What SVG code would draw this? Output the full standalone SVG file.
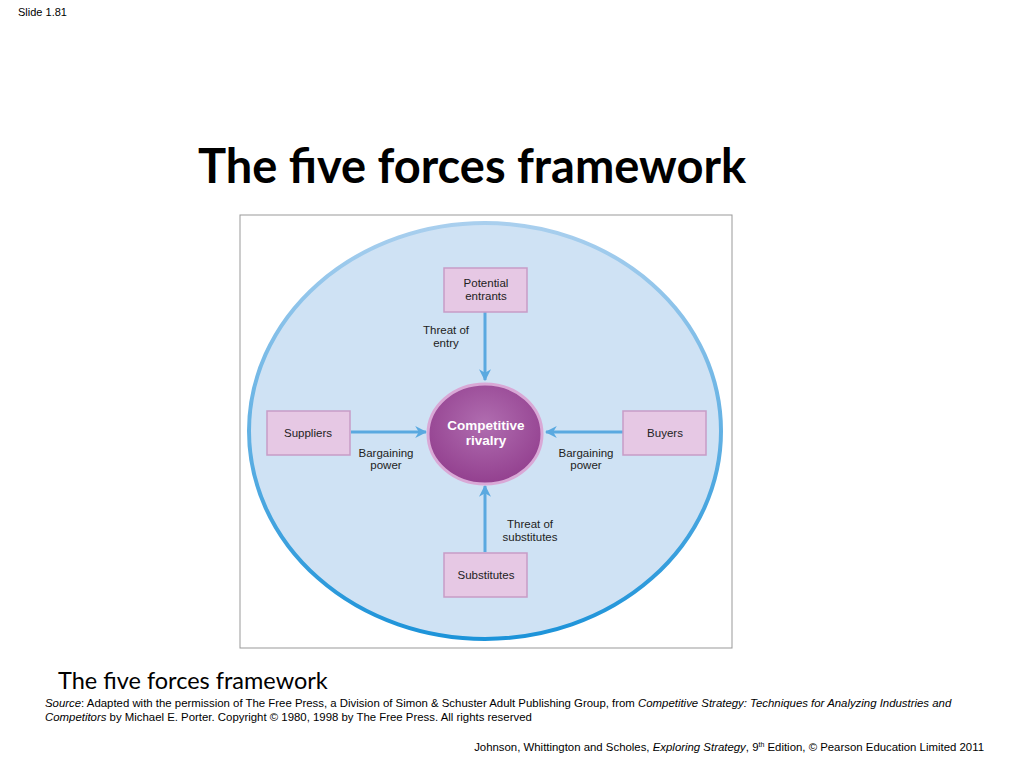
<svg xmlns="http://www.w3.org/2000/svg" width="1024" height="768" viewBox="0 0 1024 768">
<defs>
<style>
.lbl{font-family:"Liberation Sans",Arial,sans-serif;font-size:11.5px;fill:#222;text-anchor:middle}
.box{fill:#e6c8e4;stroke:#c79cc6;stroke-width:1.5}
.con{stroke:#5aa9e0;stroke-width:3;fill:none;marker-end:url(#ah)}
</style>
<marker id="ah" viewBox="0 0 10 10" refX="9" refY="5" markerWidth="4" markerHeight="4" orient="auto"><path d="M0,0 L10,5 L0,10 L3,5 z" fill="#5aa9e0"/></marker>
<radialGradient id="rg" cx="0.5" cy="0.4" r="0.6"><stop offset="0" stop-color="#b06db0"/><stop offset="1" stop-color="#93408f"/></radialGradient>
<linearGradient id="eg" x1="0" y1="0" x2="0" y2="1"><stop offset="0" stop-color="#a9cfee"/><stop offset="1" stop-color="#1c93d9"/></linearGradient>
</defs>
<rect width="1024" height="768" fill="#fff"/>
<text x="18" y="16" font-family="Liberation Sans,Arial,sans-serif" font-size="11" fill="#000">Slide 1.81</text>
<text x="472" y="183" font-family="Lato,sans-serif" font-size="47" font-weight="bold" text-anchor="middle" fill="#000">The five forces framework</text>
<rect x="240" y="215" width="492" height="433" fill="#fff" stroke="#999" stroke-width="1"/>
<ellipse cx="485" cy="431" rx="236" ry="208" fill="#cfe2f4" stroke="url(#eg)" stroke-width="4"/>
<g id="connectors">
<line class="con" x1="485" y1="312" x2="485" y2="380"/>
<line class="con" x1="351" y1="432" x2="426" y2="432"/>
<line class="con" x1="623" y1="432" x2="546" y2="432"/>
<line class="con" x1="485" y1="552" x2="485" y2="486"/>
<text class="lbl" x="446" y="334">Threat of</text><text class="lbl" x="446" y="347">entry</text>
<text class="lbl" x="386" y="457">Bargaining</text><text class="lbl" x="386" y="469">power</text>
<text class="lbl" x="586" y="457">Bargaining</text><text class="lbl" x="586" y="469">power</text>
<text class="lbl" x="530" y="528">Threat of</text><text class="lbl" x="530" y="541">substitutes</text>
</g>
<g id="rivalry"><ellipse cx="485" cy="434" rx="57" ry="50" fill="url(#rg)" stroke="#d9a8d6" stroke-width="3"/>
<text x="486" y="430" class="lbl" style="fill:#fff;font-weight:bold;font-size:13.5px">Competitive</text>
<text x="486" y="445" class="lbl" style="fill:#fff;font-weight:bold;font-size:13.5px">rivalry</text></g>
<g id="entrants"><rect class="box" x="444" y="268" width="83" height="44"/><text class="lbl" x="486" y="287">Potential</text><text class="lbl" x="486" y="300">entrants</text></g>
<g id="suppliers"><rect class="box" x="267" y="411" width="83" height="44"/><text class="lbl" x="308" y="437">Suppliers</text></g>
<g id="buyers"><rect class="box" x="623" y="411" width="83" height="44"/><text class="lbl" x="665" y="437">Buyers</text></g>
<g id="substitutes"><rect class="box" x="444" y="553" width="83" height="44"/><text class="lbl" x="486" y="579">Substitutes</text></g>
<text x="58" y="689" font-family="Lato,sans-serif" font-size="23.5" fill="#000">The five forces framework</text>
<text x="45" y="707" font-family="Liberation Sans,Arial,sans-serif" font-size="11.4" fill="#000"><tspan font-style="italic">Source</tspan>: Adapted with the permission of The Free Press, a Division of Simon &amp; Schuster Adult Publishing Group, from <tspan font-style="italic">Competitive Strategy: Techniques for Analyzing Industries and</tspan></text>
<text x="45" y="721" font-family="Liberation Sans,Arial,sans-serif" font-size="11.4" fill="#000"><tspan font-style="italic">Competitors</tspan> by Michael E. Porter. Copyright © 1980, 1998 by The Free Press. All rights reserved</text>
<text x="984" y="751" text-anchor="end" font-family="Liberation Sans,Arial,sans-serif" font-size="11.4" fill="#000">Johnson, Whittington and Scholes, <tspan font-style="italic">Exploring Strategy</tspan>, 9<tspan font-size="7" dy="-4">th</tspan><tspan dy="4"> Edition, © Pearson Education Limited 2011</tspan></text>
</svg>
